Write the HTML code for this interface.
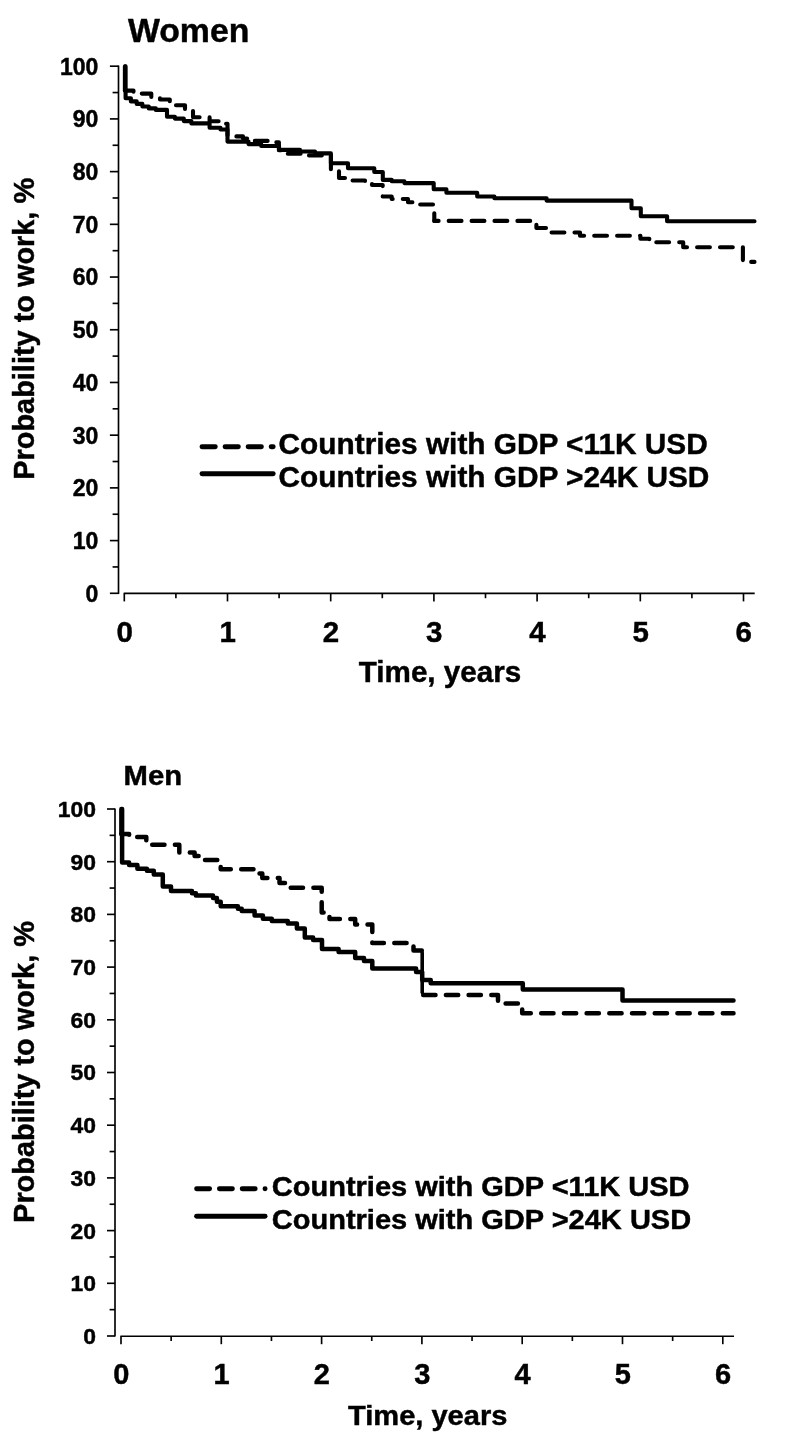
<!DOCTYPE html>
<html><head><meta charset="utf-8"><title>Probability to work</title>
<style>html,body{margin:0;padding:0;background:#fff}svg{display:block}text{font-family:"Liberation Sans",sans-serif;font-weight:bold;fill:#000;stroke:#000;stroke-width:0.45px}</style></head>
<body><svg width="785" height="1441" viewBox="0 0 785 1441">
<rect width="785" height="1441" fill="#fff"/>
<line x1="118.5" y1="65.60000000000001" x2="118.5" y2="593.9" stroke="#000" stroke-width="1.65"/>
<line x1="109.9" y1="593.30" x2="118.5" y2="593.30" stroke="#000" stroke-width="1.65"/>
<text transform="translate(98.30,601.70)" font-size="23.0" text-anchor="end">0</text>
<line x1="112.6" y1="566.94" x2="118.5" y2="566.94" stroke="#000" stroke-width="1.65"/>
<line x1="109.9" y1="540.59" x2="118.5" y2="540.59" stroke="#000" stroke-width="1.65"/>
<text transform="translate(98.30,548.99)" font-size="23.0" text-anchor="end">10</text>
<line x1="112.6" y1="514.24" x2="118.5" y2="514.24" stroke="#000" stroke-width="1.65"/>
<line x1="109.9" y1="487.88" x2="118.5" y2="487.88" stroke="#000" stroke-width="1.65"/>
<text transform="translate(98.30,496.28)" font-size="23.0" text-anchor="end">20</text>
<line x1="112.6" y1="461.52" x2="118.5" y2="461.52" stroke="#000" stroke-width="1.65"/>
<line x1="109.9" y1="435.17" x2="118.5" y2="435.17" stroke="#000" stroke-width="1.65"/>
<text transform="translate(98.30,443.57)" font-size="23.0" text-anchor="end">30</text>
<line x1="112.6" y1="408.81" x2="118.5" y2="408.81" stroke="#000" stroke-width="1.65"/>
<line x1="109.9" y1="382.46" x2="118.5" y2="382.46" stroke="#000" stroke-width="1.65"/>
<text transform="translate(98.30,390.86)" font-size="23.0" text-anchor="end">40</text>
<line x1="112.6" y1="356.11" x2="118.5" y2="356.11" stroke="#000" stroke-width="1.65"/>
<line x1="109.9" y1="329.75" x2="118.5" y2="329.75" stroke="#000" stroke-width="1.65"/>
<text transform="translate(98.30,338.15)" font-size="23.0" text-anchor="end">50</text>
<line x1="112.6" y1="303.39" x2="118.5" y2="303.39" stroke="#000" stroke-width="1.65"/>
<line x1="109.9" y1="277.04" x2="118.5" y2="277.04" stroke="#000" stroke-width="1.65"/>
<text transform="translate(98.30,285.44)" font-size="23.0" text-anchor="end">60</text>
<line x1="112.6" y1="250.69" x2="118.5" y2="250.69" stroke="#000" stroke-width="1.65"/>
<line x1="109.9" y1="224.33" x2="118.5" y2="224.33" stroke="#000" stroke-width="1.65"/>
<text transform="translate(98.30,232.73)" font-size="23.0" text-anchor="end">70</text>
<line x1="112.6" y1="197.98" x2="118.5" y2="197.98" stroke="#000" stroke-width="1.65"/>
<line x1="109.9" y1="171.62" x2="118.5" y2="171.62" stroke="#000" stroke-width="1.65"/>
<text transform="translate(98.30,180.02)" font-size="23.0" text-anchor="end">80</text>
<line x1="112.6" y1="145.27" x2="118.5" y2="145.27" stroke="#000" stroke-width="1.65"/>
<line x1="109.9" y1="118.91" x2="118.5" y2="118.91" stroke="#000" stroke-width="1.65"/>
<text transform="translate(98.30,127.31)" font-size="23.0" text-anchor="end">90</text>
<line x1="112.6" y1="92.56" x2="118.5" y2="92.56" stroke="#000" stroke-width="1.65"/>
<line x1="109.9" y1="66.20" x2="118.5" y2="66.20" stroke="#000" stroke-width="1.65"/>
<text transform="translate(98.30,74.60)" font-size="23.0" text-anchor="end">100</text>
<line x1="123.7" y1="593.4" x2="754.7" y2="593.4" stroke="#000" stroke-width="1.65"/>
<line x1="124.30" y1="593.4" x2="124.30" y2="601.4" stroke="#000" stroke-width="1.65"/>
<text transform="translate(124.60,642.10)" font-size="29.5" text-anchor="middle">0</text>
<line x1="175.90" y1="593.4" x2="175.90" y2="598.1999999999999" stroke="#000" stroke-width="1.65"/>
<line x1="227.50" y1="593.4" x2="227.50" y2="601.4" stroke="#000" stroke-width="1.65"/>
<text transform="translate(227.80,642.10)" font-size="29.5" text-anchor="middle">1</text>
<line x1="279.10" y1="593.4" x2="279.10" y2="598.1999999999999" stroke="#000" stroke-width="1.65"/>
<line x1="330.70" y1="593.4" x2="330.70" y2="601.4" stroke="#000" stroke-width="1.65"/>
<text transform="translate(331.00,642.10)" font-size="29.5" text-anchor="middle">2</text>
<line x1="382.30" y1="593.4" x2="382.30" y2="598.1999999999999" stroke="#000" stroke-width="1.65"/>
<line x1="433.90" y1="593.4" x2="433.90" y2="601.4" stroke="#000" stroke-width="1.65"/>
<text transform="translate(434.20,642.10)" font-size="29.5" text-anchor="middle">3</text>
<line x1="485.50" y1="593.4" x2="485.50" y2="598.1999999999999" stroke="#000" stroke-width="1.65"/>
<line x1="537.10" y1="593.4" x2="537.10" y2="601.4" stroke="#000" stroke-width="1.65"/>
<text transform="translate(537.40,642.10)" font-size="29.5" text-anchor="middle">4</text>
<line x1="588.70" y1="593.4" x2="588.70" y2="598.1999999999999" stroke="#000" stroke-width="1.65"/>
<line x1="640.30" y1="593.4" x2="640.30" y2="601.4" stroke="#000" stroke-width="1.65"/>
<text transform="translate(640.60,642.10)" font-size="29.5" text-anchor="middle">5</text>
<line x1="691.90" y1="593.4" x2="691.90" y2="598.1999999999999" stroke="#000" stroke-width="1.65"/>
<line x1="743.50" y1="593.4" x2="743.50" y2="601.4" stroke="#000" stroke-width="1.65"/>
<text transform="translate(743.80,642.10)" font-size="29.5" text-anchor="middle">6</text>
<text transform="translate(127.90,41.80)" font-size="33.8" text-anchor="start">Women</text>
<text transform="translate(34.00,328.80) rotate(-90)" font-size="28.9" text-anchor="middle">Probability to work, %</text>
<text transform="translate(440.00,682.40)" font-size="29.6" text-anchor="middle">Time, years</text>
<line x1="202" y1="446.7" x2="273.2" y2="446.7" stroke="#000" stroke-width="4.9" stroke-linecap="round" stroke-dasharray="13.3 9.75"/>
<line x1="202" y1="473.7" x2="273.2" y2="473.7" stroke="#000" stroke-width="4.9" stroke-linecap="round"/>
<text transform="translate(278.60,453.60)" font-size="29.8" text-anchor="start">Countries with GDP &lt;11K USD</text>
<text transform="translate(278.60,486.90)" font-size="29.8" text-anchor="start">Countries with GDP &gt;24K USD</text>
<line x1="115.0" y1="808.4" x2="115.0" y2="1336.6" stroke="#000" stroke-width="1.65"/>
<line x1="107.0" y1="1336.00" x2="115.0" y2="1336.00" stroke="#000" stroke-width="1.65"/>
<text transform="translate(96.00,1343.90)" font-size="22.9" text-anchor="end">0</text>
<line x1="109.6" y1="1309.65" x2="115.0" y2="1309.65" stroke="#000" stroke-width="1.65"/>
<line x1="107.0" y1="1283.30" x2="115.0" y2="1283.30" stroke="#000" stroke-width="1.65"/>
<text transform="translate(96.00,1291.20)" font-size="22.9" text-anchor="end">10</text>
<line x1="109.6" y1="1256.95" x2="115.0" y2="1256.95" stroke="#000" stroke-width="1.65"/>
<line x1="107.0" y1="1230.60" x2="115.0" y2="1230.60" stroke="#000" stroke-width="1.65"/>
<text transform="translate(96.00,1238.50)" font-size="22.9" text-anchor="end">20</text>
<line x1="109.6" y1="1204.25" x2="115.0" y2="1204.25" stroke="#000" stroke-width="1.65"/>
<line x1="107.0" y1="1177.90" x2="115.0" y2="1177.90" stroke="#000" stroke-width="1.65"/>
<text transform="translate(96.00,1185.80)" font-size="22.9" text-anchor="end">30</text>
<line x1="109.6" y1="1151.55" x2="115.0" y2="1151.55" stroke="#000" stroke-width="1.65"/>
<line x1="107.0" y1="1125.20" x2="115.0" y2="1125.20" stroke="#000" stroke-width="1.65"/>
<text transform="translate(96.00,1133.10)" font-size="22.9" text-anchor="end">40</text>
<line x1="109.6" y1="1098.85" x2="115.0" y2="1098.85" stroke="#000" stroke-width="1.65"/>
<line x1="107.0" y1="1072.50" x2="115.0" y2="1072.50" stroke="#000" stroke-width="1.65"/>
<text transform="translate(96.00,1080.40)" font-size="22.9" text-anchor="end">50</text>
<line x1="109.6" y1="1046.15" x2="115.0" y2="1046.15" stroke="#000" stroke-width="1.65"/>
<line x1="107.0" y1="1019.80" x2="115.0" y2="1019.80" stroke="#000" stroke-width="1.65"/>
<text transform="translate(96.00,1027.70)" font-size="22.9" text-anchor="end">60</text>
<line x1="109.6" y1="993.45" x2="115.0" y2="993.45" stroke="#000" stroke-width="1.65"/>
<line x1="107.0" y1="967.10" x2="115.0" y2="967.10" stroke="#000" stroke-width="1.65"/>
<text transform="translate(96.00,975.00)" font-size="22.9" text-anchor="end">70</text>
<line x1="109.6" y1="940.75" x2="115.0" y2="940.75" stroke="#000" stroke-width="1.65"/>
<line x1="107.0" y1="914.40" x2="115.0" y2="914.40" stroke="#000" stroke-width="1.65"/>
<text transform="translate(96.00,922.30)" font-size="22.9" text-anchor="end">80</text>
<line x1="109.6" y1="888.05" x2="115.0" y2="888.05" stroke="#000" stroke-width="1.65"/>
<line x1="107.0" y1="861.70" x2="115.0" y2="861.70" stroke="#000" stroke-width="1.65"/>
<text transform="translate(96.00,869.60)" font-size="22.9" text-anchor="end">90</text>
<line x1="109.6" y1="835.35" x2="115.0" y2="835.35" stroke="#000" stroke-width="1.65"/>
<line x1="107.0" y1="809.00" x2="115.0" y2="809.00" stroke="#000" stroke-width="1.65"/>
<text transform="translate(96.00,816.90)" font-size="22.9" text-anchor="end">100</text>
<line x1="120.4" y1="1336.2" x2="734" y2="1336.2" stroke="#000" stroke-width="1.65"/>
<line x1="121.00" y1="1336.2" x2="121.00" y2="1344.2" stroke="#000" stroke-width="1.65"/>
<text transform="translate(121.30,1384.10)" font-size="29.0" text-anchor="middle">0</text>
<line x1="171.15" y1="1336.2" x2="171.15" y2="1341.0" stroke="#000" stroke-width="1.65"/>
<line x1="221.30" y1="1336.2" x2="221.30" y2="1344.2" stroke="#000" stroke-width="1.65"/>
<text transform="translate(221.60,1384.10)" font-size="29.0" text-anchor="middle">1</text>
<line x1="271.45" y1="1336.2" x2="271.45" y2="1341.0" stroke="#000" stroke-width="1.65"/>
<line x1="321.60" y1="1336.2" x2="321.60" y2="1344.2" stroke="#000" stroke-width="1.65"/>
<text transform="translate(321.90,1384.10)" font-size="29.0" text-anchor="middle">2</text>
<line x1="371.75" y1="1336.2" x2="371.75" y2="1341.0" stroke="#000" stroke-width="1.65"/>
<line x1="421.90" y1="1336.2" x2="421.90" y2="1344.2" stroke="#000" stroke-width="1.65"/>
<text transform="translate(422.20,1384.10)" font-size="29.0" text-anchor="middle">3</text>
<line x1="472.05" y1="1336.2" x2="472.05" y2="1341.0" stroke="#000" stroke-width="1.65"/>
<line x1="522.20" y1="1336.2" x2="522.20" y2="1344.2" stroke="#000" stroke-width="1.65"/>
<text transform="translate(522.50,1384.10)" font-size="29.0" text-anchor="middle">4</text>
<line x1="572.35" y1="1336.2" x2="572.35" y2="1341.0" stroke="#000" stroke-width="1.65"/>
<line x1="622.50" y1="1336.2" x2="622.50" y2="1344.2" stroke="#000" stroke-width="1.65"/>
<text transform="translate(622.80,1384.10)" font-size="29.0" text-anchor="middle">5</text>
<line x1="672.65" y1="1336.2" x2="672.65" y2="1341.0" stroke="#000" stroke-width="1.65"/>
<line x1="722.80" y1="1336.2" x2="722.80" y2="1344.2" stroke="#000" stroke-width="1.65"/>
<text transform="translate(723.10,1384.10)" font-size="29.0" text-anchor="middle">6</text>
<text transform="translate(123.60,784.70) scale(1.075,1)" font-size="27.2" text-anchor="start">Men</text>
<text transform="translate(34.00,1072.00) rotate(-90)" font-size="28.9" text-anchor="middle">Probability to work, %</text>
<text transform="translate(427.70,1424.60) scale(1.06,1)" font-size="27.4" text-anchor="middle">Time, years</text>
<line x1="196.6" y1="1188.8" x2="265.1" y2="1188.8" stroke="#000" stroke-width="4.9" stroke-linecap="round" stroke-dasharray="13 9.8"/>
<line x1="196.6" y1="1216.2" x2="265.1" y2="1216.2" stroke="#000" stroke-width="4.9" stroke-linecap="round"/>
<text transform="translate(271.80,1196.00) scale(1.067,1)" font-size="27.2" text-anchor="start">Countries with GDP &lt;11K USD</text>
<text transform="translate(271.80,1228.60) scale(1.067,1)" font-size="27.2" text-anchor="start">Countries with GDP &gt;24K USD</text>
<line x1="124.9" y1="66.4" x2="124.9" y2="90.6" stroke="#000" stroke-width="4.1" stroke-linecap="round"/>
<path d="M124.9 90.6 L133.5 90.6 L133.5 93.6 L151.3 93.6 L151.3 97.0 L160.0 97.0 L160.0 99.5 L169.8 99.5 L169.8 102.0 L175.0 102.0 L175.0 105.2 L185.0 105.2 L185.0 110.5 L193.0 110.5 L193.0 117.3 L209.6 117.3 L209.6 121.2 L224.0 121.2 L224.0 123.8 L227.5 123.8 L227.5 136.4 L243.0 136.4 L243.0 138.5 L252.0 138.5 L252.0 140.9 L268.0 140.9 L268.0 142.3 L278.9 142.3 L278.9 150.3 L286.0 150.3 L286.0 153.7 L306.0 153.7 L306.0 155.4 L330.9 155.4 L330.9 171.0 L339.0 171.0 L339.0 178.0 L350.0 178.0 L350.0 180.5 L365.0 180.5 L365.0 182.5 L372.0 182.5 L372.0 185.0 L382.7 185.0 L382.7 196.5 L391.7 196.5 L391.7 199.0 L408.0 199.0 L408.0 202.2 L420.0 202.2 L420.0 204.5 L434.3 204.5 L434.3 220.9" fill="none" stroke="#000" stroke-width="4.1" stroke-linejoin="round" stroke-linecap="round" stroke-dasharray="12.8 10.1" stroke-dashoffset="3"/>
<path d="M434.3 220.9 L536.4 220.9 L536.4 228.0 L547.9 228.0 L547.9 232.5 L580.0 232.5 L580.0 235.7 L640.4 235.7 L640.4 238.7 L649.3 238.7 L649.3 242.3 L683.2 242.3 L683.2 247.3 L742.9 247.3 L742.9 261.9 L754.5 261.9" fill="none" stroke="#000" stroke-width="4.1" stroke-linejoin="round" stroke-linecap="round" stroke-dasharray="12.8 10.1" stroke-dashoffset="8.50"/>
<path d="M125.6 66.4 L125.6 98.2 L130.9 98.2 L130.9 101.4 L136.7 101.4 L136.7 103.9 L142.4 103.9 L142.4 106.5 L148.8 106.5 L148.8 108.4 L155.8 108.4 L155.8 109.9 L167.0 109.9 L167.0 116.7 L174.9 116.7 L174.9 118.6 L183.8 118.6 L183.8 121.1 L191.4 121.1 L191.4 123.4 L209.6 123.4 L209.6 127.8 L220.5 127.8 L220.5 129.5 L227.5 129.5 L227.5 141.6 L248.5 141.6 L248.5 144.1 L261.2 144.1 L261.2 146.0 L279.0 146.0 L279.0 149.9 L300.0 149.9 L300.0 151.5 L315.0 151.5 L315.0 153.4 L330.9 153.4 L330.9 163.3 L348.0 163.3 L348.0 168.2 L374.3 168.2 L374.3 172.0 L382.8 172.0 L382.8 179.9 L391.7 179.9 L391.7 181.2 L404.4 181.2 L404.4 183.1 L433.7 183.1 L433.7 189.2 L446.4 189.2 L446.4 192.8 L477.2 192.8 L477.2 196.5 L494.4 196.5 L494.4 198.3 L546.6 198.3 L546.6 200.6 L631.5 200.6 L631.5 208.2 L640.8 208.2 L640.8 216.2 L667.1 216.2 L667.1 221.2 L754.5 221.2" fill="none" stroke="#000" stroke-width="4.1" stroke-linejoin="round" stroke-linecap="round"/>
<line x1="121.4" y1="808.9" x2="121.4" y2="834.1" stroke="#000" stroke-width="4.5" stroke-linecap="round"/>
<path d="M121.4 834.1 L129.1 834.1 L129.1 837.0 L146.3 837.0 L146.3 844.7 L179.3 844.7 L179.3 852.5 L194.6 852.5 L194.6 856.0 L202.5 856.0 L202.5 860.0 L220.7 860.0 L220.7 869.2 L254.6 869.2 L254.6 873.6 L262.3 873.6 L262.3 878.0 L279.5 878.0 L279.5 883.1 L285.2 883.1 L285.2 887.8 L321.7 887.8 L321.7 912.6 L329.5 912.6 L329.5 919.0 L355.2 919.0 L355.2 924.5 L372.3 924.5 L372.3 943.1 L413.5 943.1 L413.5 950.6 L422.2 950.6" fill="none" stroke="#000" stroke-width="4.5" stroke-linejoin="round" stroke-linecap="round" stroke-dasharray="12.3 10.4" stroke-dashoffset="4"/>
<line x1="422.2" y1="952.5" x2="422.2" y2="992.5" stroke="#000" stroke-width="3.6" stroke-linecap="round"/>
<path d="M422.2 995.1 L498.0 995.1 L498.0 1003.5 L522.2 1003.5 L522.2 1013.3 L733.5 1013.3" fill="none" stroke="#000" stroke-width="4.5" stroke-linejoin="round" stroke-linecap="round" stroke-dasharray="12.3 10.4" stroke-dashoffset="21.70"/>
<path d="M122.1 808.9 L122.1 862.4 L129.1 862.4 L129.1 865.0 L137.4 865.0 L137.4 868.8 L146.9 868.8 L146.9 870.7 L153.8 870.7 L153.8 874.6 L162.8 874.6 L162.8 886.5 L171.0 886.5 L171.0 891.0 L192.0 891.0 L192.0 893.2 L195.9 893.2 L195.9 895.4 L213.0 895.4 L213.0 898.0 L216.9 898.0 L216.9 901.8 L220.7 901.8 L220.7 906.2 L237.9 906.2 L237.9 908.8 L241.7 908.8 L241.7 911.1 L254.6 911.1 L254.6 915.6 L262.9 915.6 L262.9 918.8 L271.8 918.8 L271.8 920.9 L287.8 920.9 L287.8 923.6 L296.9 923.6 L296.9 928.5 L304.8 928.5 L304.8 937.6 L313.1 937.6 L313.1 940.1 L322.0 940.1 L322.0 949.0 L338.6 949.0 L338.6 952.0 L355.2 952.0 L355.2 958.0 L364.0 958.0 L364.0 961.0 L372.3 961.0 L372.3 968.6 L416.1 968.6 L416.1 972.0 L422.2 972.0 L422.2 979.9 L430.7 979.9 L430.7 983.2 L522.8 983.2 L522.8 989.4 L622.5 989.4 L622.5 1000.4 L733.5 1000.4" fill="none" stroke="#000" stroke-width="4.5" stroke-linejoin="round" stroke-linecap="round"/>
</svg></body></html>
